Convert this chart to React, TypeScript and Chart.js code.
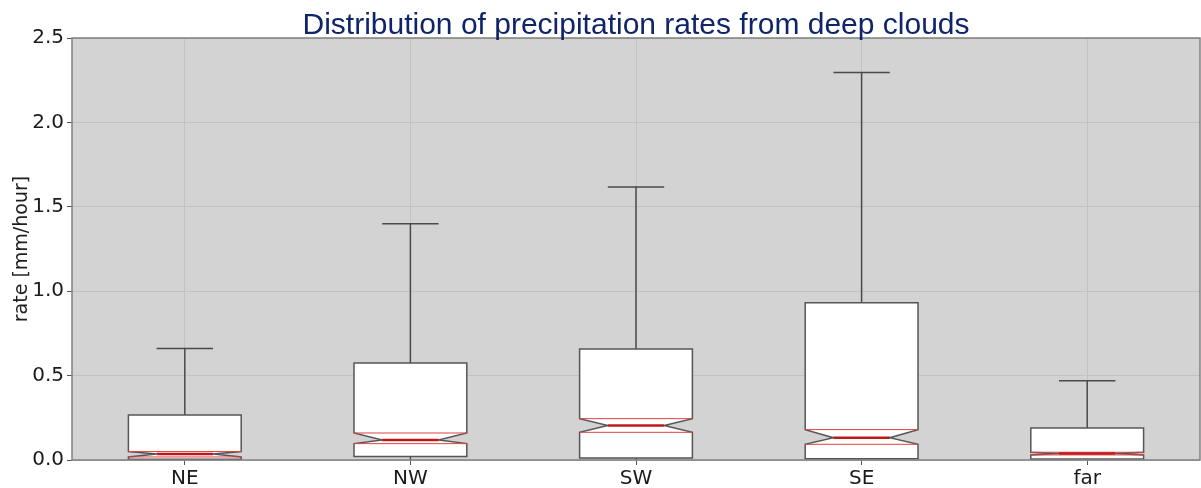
import React, { useEffect, useRef } from "react";
import { Chart, registerables } from "chart.js";

Chart.register(...registerables);

const categories = ["NE", "NW", "SW", "SE", "far"];
const whiskerHigh = [0.66, 1.4, 1.617, 2.295, 0.47];
const q3 = [0.267, 0.575, 0.658, 0.931, 0.19];
const confHigh = [0.05, 0.16, 0.245, 0.18, 0.046];
const median = [0.035, 0.119, 0.204, 0.132, 0.038];
const confLow = [0.018, 0.097, 0.164, 0.093, 0.03];
const q1 = [0.004, 0.02, 0.012, 0.008, 0.006];
const whiskerLow = [0, 0, 0, 0, 0];
const yTicks = [0, 0.5, 1.0, 1.5, 2.0, 2.5];

const TITLE = "Distribution of precipitation rates from deep clouds";
const Y_LABEL = "rate [mm/hour]";

const boxPlugin = {
  id: "notchedBoxes",
  beforeDraw(chart: any) {
    const { ctx, chartArea } = chart;
    ctx.save();
    ctx.fillStyle = "#ffffff";
    ctx.fillRect(0, 0, chart.width, chart.height);
    ctx.fillStyle = "#d3d3d3";
    ctx.fillRect(chartArea.left, chartArea.top, chartArea.right - chartArea.left, chartArea.bottom - chartArea.top);
    ctx.restore();
  },
  afterDatasetsDraw(chart: any) {
    const { ctx, chartArea } = chart;
    const xs = chart.scales.x;
    const ys = chart.scales.y;
    ctx.save();
    categories.forEach((_, i) => {
      const cx = xs.getPixelForValue(i + 1);
      const hw = xs.getPixelForValue(i + 1.25) - cx;
      const nw = hw / 2;
      const capHw = hw / 2;
      const yq1 = ys.getPixelForValue(q1[i]);
      const yq3 = ys.getPixelForValue(q3[i]);
      const ycl = ys.getPixelForValue(confLow[i]);
      const ych = ys.getPixelForValue(confHigh[i]);
      const ym = ys.getPixelForValue(median[i]);
      const ywh = ys.getPixelForValue(whiskerHigh[i]);
      const ywl = ys.getPixelForValue(whiskerLow[i]);

      // whiskers
      ctx.strokeStyle = "#4a4a4a";
      ctx.lineWidth = 1.5;
      ctx.beginPath();
      ctx.moveTo(cx, yq3);
      ctx.lineTo(cx, ywh);
      ctx.moveTo(cx - capHw, ywh);
      ctx.lineTo(cx + capHw, ywh);
      ctx.moveTo(cx, yq1);
      ctx.lineTo(cx, ywl);
      ctx.stroke();

      // notched box
      ctx.beginPath();
      ctx.moveTo(cx - hw, yq1);
      ctx.lineTo(cx - hw, ycl);
      ctx.lineTo(cx - nw, ym);
      ctx.lineTo(cx - hw, ych);
      ctx.lineTo(cx - hw, yq3);
      ctx.lineTo(cx + hw, yq3);
      ctx.lineTo(cx + hw, ych);
      ctx.lineTo(cx + nw, ym);
      ctx.lineTo(cx + hw, ycl);
      ctx.lineTo(cx + hw, yq1);
      ctx.closePath();
      ctx.fillStyle = "#ffffff";
      ctx.fill();
      ctx.strokeStyle = "#555555";
      ctx.lineWidth = 1.5;
      ctx.stroke();

      // confidence lines
      ctx.strokeStyle = "#e34040";
      ctx.lineWidth = 1;
      ctx.beginPath();
      ctx.moveTo(cx - hw, ych);
      ctx.lineTo(cx + hw, ych);
      ctx.moveTo(cx - hw, ycl);
      ctx.lineTo(cx + hw, ycl);
      ctx.stroke();

      // median
      ctx.strokeStyle = "#c01818";
      ctx.lineWidth = 2.5;
      ctx.beginPath();
      ctx.moveTo(cx - nw, ym);
      ctx.lineTo(cx + nw, ym);
      ctx.stroke();
    });

    // spines
    ctx.strokeStyle = "#808080";
    ctx.lineWidth = 1.5;
    ctx.strokeRect(chartArea.left, chartArea.top, chartArea.right - chartArea.left, chartArea.bottom - chartArea.top);

    // title
    ctx.fillStyle = "#10246a";
    ctx.font = '30px "Liberation Sans", Arial, sans-serif';
    ctx.textAlign = "center";
    ctx.textBaseline = "alphabetic";
    ctx.fillText(TITLE, (chartArea.left + chartArea.right) / 2, 34);

    // y label
    ctx.fillStyle = "#1e1e1e";
    ctx.font = '19px "DejaVu Sans", sans-serif';
    ctx.translate(22, (chartArea.top + chartArea.bottom) / 2);
    ctx.rotate(-Math.PI / 2);
    ctx.textAlign = "center";
    ctx.textBaseline = "middle";
    ctx.fillText(Y_LABEL, 0, 0);
    ctx.restore();
  },
};

export default function App() {
  const ref = useRef<HTMLCanvasElement>(null);
  useEffect(() => {
    const canvas = ref.current;
    if (!canvas) return;
    const chart = new Chart(canvas, {
      type: "scatter",
      data: {
        datasets: [
          {
            data: categories.map((_, i) => ({ x: i + 1, y: median[i] })),
            pointRadius: 0,
            showLine: false,
          },
        ],
      },
      options: {
        animation: false,
        responsive: false,
        devicePixelRatio: 1,
        layout: { padding: { left: 0, top: 38, right: 1, bottom: 0 } },
        plugins: { legend: { display: false }, tooltip: { enabled: false }, title: { display: false } },
        scales: {
          x: {
            type: "linear",
            min: 0.5,
            max: 5.5,
            afterBuildTicks: (scale: any) => {
              scale.ticks = categories.map((_, i) => ({ value: i + 1 }));
            },
            afterFit: (scale: any) => {
              scale.height = 28;
            },
            ticks: {
              callback: (v: any) => categories[Math.round(Number(v)) - 1] ?? "",
              color: "#1a1a1a",
              font: { family: "DejaVu Sans", size: 20 },
              padding: 2,
              maxRotation: 0,
              autoSkip: false,
            },
            grid: { color: "#c2c2c2", lineWidth: 1, tickLength: 5, tickColor: "#555555" },
            border: { display: false },
          },
          y: {
            min: 0,
            max: 2.5,
            afterBuildTicks: (scale: any) => {
              scale.ticks = yTicks.map((v) => ({ value: v }));
            },
            afterFit: (scale: any) => {
              scale.width = 72;
            },
            ticks: {
              callback: (v: any) => Number(v).toFixed(1),
              color: "#1a1a1a",
              font: { family: "DejaVu Sans", size: 20 },
              padding: 3,
            },
            grid: { color: "#c2c2c2", lineWidth: 1, tickLength: 5, tickColor: "#555555" },
            border: { display: false },
          },
        },
      },
      plugins: [boxPlugin],
    });
    return () => chart.destroy();
  }, []);
  return (
    <div style={{ position: "absolute", left: 0, top: 0, width: 1201, height: 488 }}>
      <canvas ref={ref} width={1201} height={488} style={{ width: 1201, height: 488 }} />
    </div>
  );
}
